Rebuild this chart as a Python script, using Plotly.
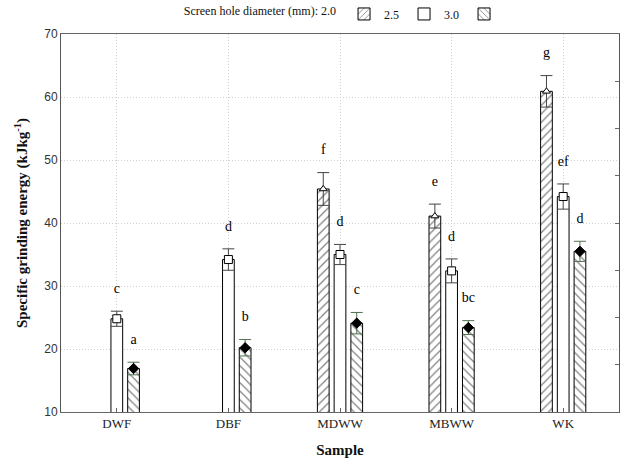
import plotly.graph_objects as go

samples = ["DWF", "DBF", "MDWW", "MBWW", "WK"]
series_names = ["2.0", "2.5", "3.0"]
energy_20 = [None, None, 45.4, 41.1, 60.9]
energy_25 = [24.8, 34.2, 35.0, 32.4, 44.2]
energy_30 = [16.9, 20.2, 24.1, 23.4, 35.5]
err_20 = [None, None, 2.6, 1.9, 2.5]
err_25 = [1.2, 1.7, 1.6, 1.9, 2.0]
err_30 = [1.0, 1.3, 1.7, 1.1, 1.6]
letters_20 = [None, None, "f", "e", "g"]
letters_25 = ["c", "d", "d", "d", "ef"]
letters_30 = ["a", "b", "c", "bc", "d"]

values = [energy_20, energy_25, energy_30]
errors = [err_20, err_25, err_30]
letters = [letters_20, letters_25, letters_30]
patterns = ["/", "", "\\"]
symbols = ["triangle-up", "square", "diamond"]
marker_fill = ["white", "white", "black"]
marker_size = [7, 8, 8]
err_colors = ["#444444", "#444444", "#4f6f4f"]

serif = "Liberation Serif"
sans = "Liberation Sans"

fig = go.Figure()

for k in range(3):
    fig.add_trace(go.Bar(
        x=samples, y=values[k], name=series_names[k], offsetgroup=str(k),
        showlegend=False,
        marker=dict(color="white", line=dict(color="black", width=1),
                    pattern=dict(shape=patterns[k], fgcolor="black", bgcolor="white",
                                 size=6, solidity=0.2)),
    ))

for k in range(3):
    fig.add_trace(go.Scatter(
        x=samples, y=values[k], name=series_names[k], offsetgroup=str(k),
        mode="markers", showlegend=False,
        marker=dict(symbol=symbols[k], size=marker_size[k], color=marker_fill[k],
                    line=dict(color="black", width=1)),
        error_y=dict(type="data", array=errors[k], visible=True,
                     color=err_colors[k], thickness=1, width=6),
        cliponaxis=False,
    ))

# text letters above error bars (invisible marker pushes text upward)
for k in range(3):
    tops = [None if v is None else v + e for v, e in zip(values[k], errors[k])]
    fig.add_trace(go.Scatter(
        x=samples, y=tops, offsetgroup=str(k), mode="markers+text",
        text=letters[k], textposition="top center", showlegend=False,
        marker=dict(size=22, opacity=0, color="white"),
        textfont=dict(family=serif, size=14, color="#000000"),
        hoverinfo="skip", cliponaxis=False,
    ))

# legend proxies (text after swatch emulates "label [swatch]")
legend_names = ["2.5", "3.0", " "]
for k in range(3):
    fig.add_trace(go.Bar(
        x=[None], y=[None], name=legend_names[k], showlegend=True,
        marker=dict(color="white", line=dict(color="black", width=1),
                    pattern=dict(shape=patterns[k], fgcolor="black", bgcolor="white",
                                 size=5, solidity=0.2)),
    ))

fig.update_layout(
    width=622, height=464,
    margin=dict(l=61, r=3, t=34, b=52, autoexpand=False),
    paper_bgcolor="white", plot_bgcolor="white",
    barmode="group", bargap=0.55, bargroupgap=0.3,
    scattermode="group", scattergap=0.55,
    showlegend=True,
    legend=dict(orientation="h", x=0.513, xanchor="center", y=1.053, yanchor="middle",
                font=dict(family=serif, size=12, color="#111111"),
                title=dict(text="Screen hole diameter (mm): 2.0", side="left",
                           font=dict(family=serif, size=12, color="#111111")),
                itemwidth=30, tracegroupgap=0, bgcolor="rgba(0,0,0,0)"),
    xaxis=dict(
        type="category", range=[-0.5, 4.5],
        showline=True, linecolor="#666666", linewidth=1, mirror=True,
        ticks="inside", ticklen=4, tickcolor="#666666",
        showgrid=True, gridcolor="#d0d0d0", griddash="1px,2px", gridwidth=1,
        tickfont=dict(family=serif, size=13, color="#222222"),
        ticklabelstandoff=-1,
        title=dict(text="<b>Sample</b>", font=dict(family=serif, size=15, color="#111111"),
                   standoff=14),
        zeroline=False,
    ),
    yaxis=dict(
        range=[10, 70], dtick=10,
        showline=True, linecolor="#555555", linewidth=1, mirror=True,
        ticks="", showgrid=True, gridcolor="#d0d0d0", griddash="1px,2px", gridwidth=1,
        tickfont=dict(family=sans, size=12, color="#333333"),
        title=dict(text="<b>Specific grinding energy (kJkg<sup>-1</sup>)</b>",
                   font=dict(family=serif, size=15, color="#111111"), standoff=12),
        zeroline=False,
    ),
    yaxis2=dict(
        overlaying="y", side="right", range=[0, 8], dtick=1,
        ticks="inside", ticklen=4, tickcolor="#666666", showticklabels=False,
        showgrid=False, zeroline=False, showline=False,
    ),
)

# dummy to activate yaxis2 ticks
fig.add_trace(go.Scatter(x=[None], y=[None], yaxis="y2", showlegend=False, hoverinfo="skip"))

post = ("document.body.style.margin='0';document.body.style.overflow='hidden';"
        "Plotly.relayout('{plot_id}', {width: 622, height: 464});")
fig.write_html("out.html", post_script=post, config={"displayModeBar": False})
